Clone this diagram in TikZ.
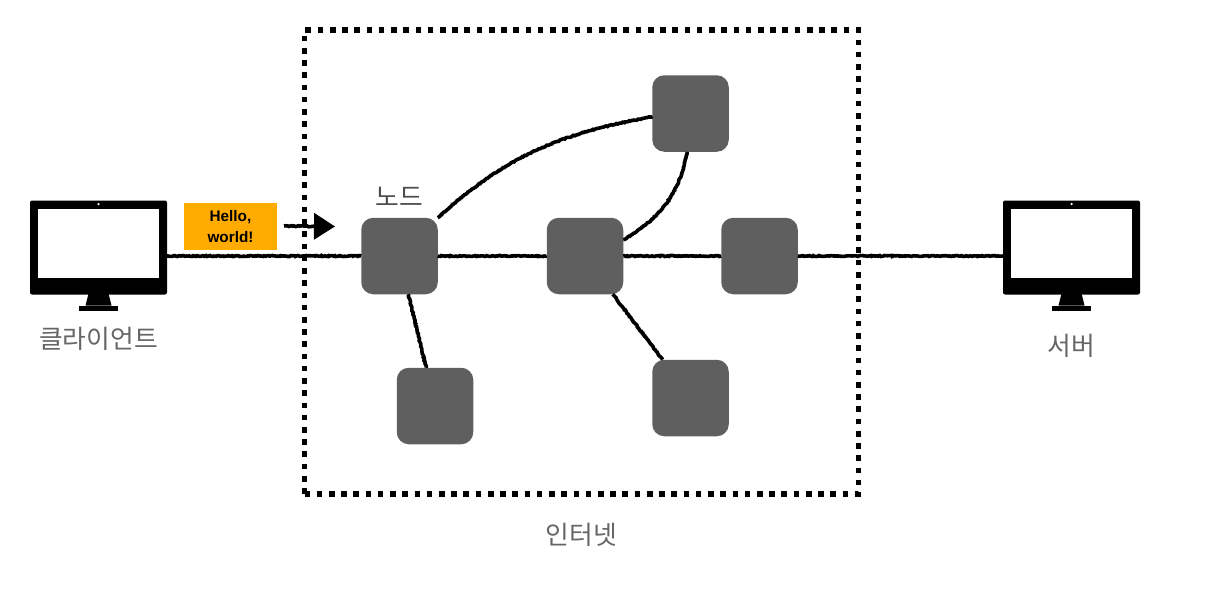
\documentclass[tikz,border=0pt]{standalone}
\usepackage{fontspec}
\setmainfont{Liberation Sans}
\newfontfamily\krfont{Noto Sans CJK KR}
\usetikzlibrary{arrows.meta,decorations.pathmorphing}
\definecolor{nodegray}{HTML}{5F5F5F}
\definecolor{labelgray}{HTML}{666666}
\definecolor{msgorange}{HTML}{FFAB00}
\tikzset{
	every node/.style={inner sep=0pt, outer sep=0pt}
}
\tikzset{
	hop/.style={rectangle, fill=nodegray, rounded corners=12pt, minimum size=76.5pt}
}
\tikzset{
	wire/.style={line width=3.6pt, draw=black, decorate,
		decoration={random steps, segment length=1.3pt, amplitude=.5pt}}
}
\tikzset{
	netbox/.style={rectangle, draw, line width=5.4pt, dash pattern=on 5.6pt off 6.63pt,
		minimum width=554pt, minimum height=464pt}
}
\tikzset{
	label/.style={text=labelgray, font=\krfont\fontsize{25.8}{26}\selectfont}
}
\tikzset{
	monitor/.pic={
		\fill (-10,46) -- (10,46) -- (13,58) -- (-13,58) -- cycle;
		\node (-stand) [fill, minimum width=39pt, minimum height=5pt] at (0,60.5) {};
		\node (-body) [fill, rounded corners=2pt, minimum width=137pt, minimum height=94pt] at (0,0) {};
		\node (-screen) [fill=white, minimum width=121pt, minimum height=69pt] at (0,-4.5) {};
		\node (-eye) [circle, fill=white, minimum size=2.5pt] at (0,-43.5) {};
	}
}
\begin{document}
\begin{tikzpicture}[x=1pt,y=-1pt]
	\useasboundingbox (0,0) rectangle (1217,610);
	\node (internet) [netbox] at (581.5,262) {};

	\pic (client) at (98.5,247.5) {monitor};
	\pic (server) at (1071.5,247.5) {monitor};
	\coordinate (clientport) at (167,256);
	\coordinate (serverport) at (1003,256);

	\node (a) [hop] at (399.5,256) {};
	\node (b) [hop] at (585,256) {};
	\node (c) [hop] at (759.5,256) {};
	\node (d) [hop] at (690.5,113.5) {};
	\node (e) [hop] at (435,406) {};
	\node (f) [hop] at (690.5,398) {};

	\node (hello) [fill=msgorange, minimum width=93pt, minimum height=47pt, align=center,
		font=\bfseries\fontsize{15.3}{21}\selectfont] at (230.5,226.5) {Hello,\\world!};
	\coordinate (msgtail) at (284,226);
	\coordinate (msghead) at (335,226.5);

	\node (clientlabel) [label] at (98.5,339) {클라이언트};
	\node (serverlabel) [label] at (1071,346) {서버};
	\node (nodelabel) [label, text=black!70] at (399.5,196.5) {노드};
	\node (netlabel) [label] at (581.5,535) {인터넷};

	\draw (clientport) edge [wire] (a); \draw (a) edge [wire] (b);
	\draw (b) edge [wire] (c); \draw (c) edge [wire] (serverport);
	\draw (a.north east) edge [wire, out=42, in=190] (d.185);
	\draw (b.23) edge [wire, out=30, in=-100] (d.265);
	\draw (a.-77) edge [wire] (e.103);
	\draw (b.-54) edge [wire] (f.126);
	\draw [line width=3.6pt, -{Triangle[length=21pt,width=26pt]}, decorate,
		decoration={random steps, segment length=1.3pt, amplitude=.5pt, post length=22pt}]
		(msgtail) -- (msghead);
\end{tikzpicture}
\end{document}
